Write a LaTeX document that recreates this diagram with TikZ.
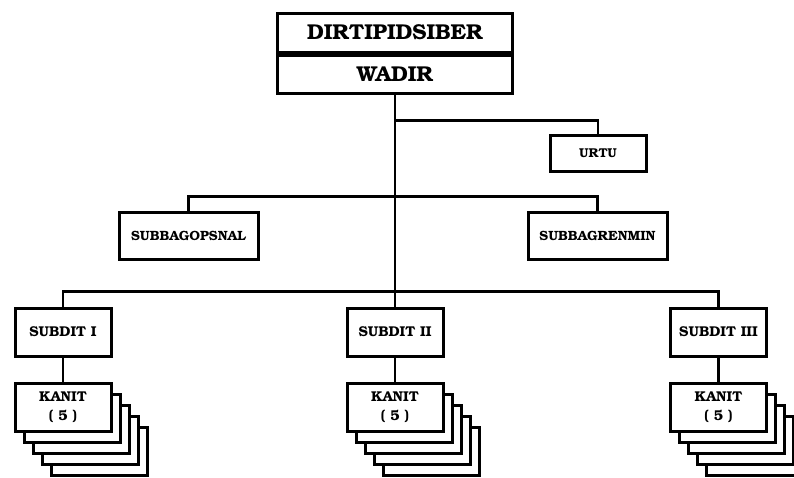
\documentclass[tikz,border=0pt]{standalone}
\usepackage{fontspec}
\setmainfont{texgyrebonum}[Extension=.otf, UprightFont=*-regular, BoldFont=*-bold]
\usetikzlibrary{shadows}

\begin{document}
\begin{tikzpicture}[x=1pt,y=-1pt]
        \tikzstyle{every node}=[font=\bfseries\fontsize{13.4}{15}\selectfont]
        \tikzstyle{unit}=[draw, line width=3pt, fill=white, align=center, inner sep=0pt,
            drop shadow={opacity=0.2, shadow xshift=1.5pt, shadow yshift=-1.5pt}]
        \tikzstyle{wire}=[line width=2.6pt]
        \tikzstyle{subdit}=[unit, minimum width=96pt, minimum height=48pt,
            font=\bfseries\fontsize{14.2}{19}\selectfont]
        \tikzstyle{kanit}=[subdit]

        \useasboundingbox (0,0) rectangle (794,477);
        \clip (0,0) rectangle (794,477);

        % pimpinan
        \node[unit, minimum width=235pt, minimum height=39pt,
            font=\bfseries\fontsize{21.5}{24}\selectfont] (dir) at (395,32.5) {DIRTIPIDSIBER};
        \node[unit, minimum width=235pt, minimum height=38pt,
            font=\bfseries\fontsize{21.5}{24}\selectfont, anchor=north] (wadir) at (dir.south) {WADIR};

        % unsur pembantu
        \node[unit, minimum width=96pt, minimum height=36pt,
            font=\bfseries\fontsize{12.8}{15}\selectfont] (urtu) at (598,153) {URTU};
        \node[unit, minimum width=139pt, minimum height=47pt] (opsnal) at (188.5,235.5) {SUBBAGOPSNAL};
        \node[unit, minimum width=139pt, minimum height=47pt] (renmin) at (597.5,235.5) {SUBBAGRENMIN};

        % unsur pelaksana
        \node[subdit] (subdit1) at (63,332) {SUBDIT I};
        \node[subdit] (subdit2) at (395,332) {SUBDIT II};
        \node[subdit] (subdit3) at (718.5,332) {SUBDIT III};

        % garis komando
        \draw[wire] (wadir.south) -- (subdit2.north);
        \draw[wire] (urtu.north) -- ++(0,-13) -| (wadir.south);
        \draw[wire] (opsnal.north) -- ++(0,-14) -| (renmin.north);
        \draw[wire] (subdit1.north) -- ++(0,-15) -| (subdit3.north);

        % kanit (5)
        \foreach \k/\x in {1/63, 2/395, 3/718.5} {
            \foreach \i in {4,3,2,1}
                \node[kanit] (kanit\k-\i) at (\x+9*\i,407+11*\i) {};
            \node[kanit] (kanit\k) at (\x,407) {KANIT\\( 5 )};
            \draw[wire] (subdit\k.south) -- (kanit\k.north);
        }

    \end{tikzpicture}
\end{document}
